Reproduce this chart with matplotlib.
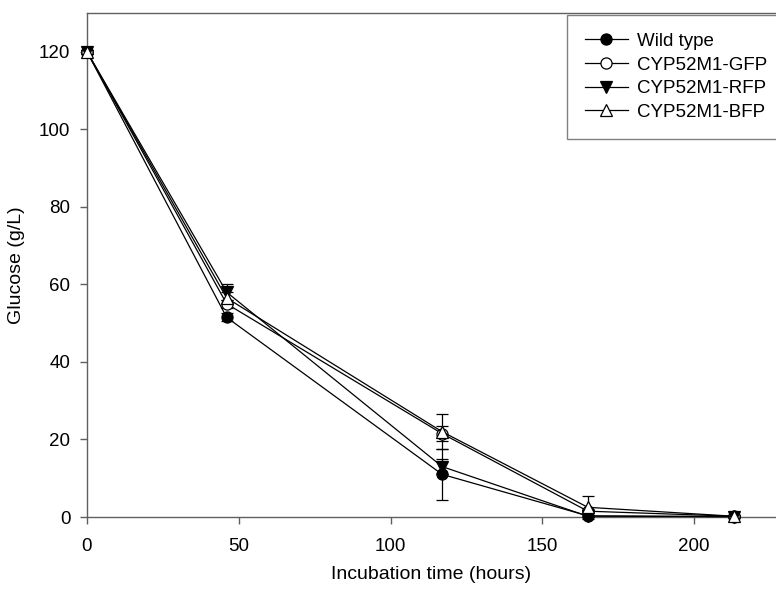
import numpy as np
import matplotlib
matplotlib.use("Agg")
import matplotlib.pyplot as plt
from matplotlib.lines import Line2D

plt.rcParams['font.family'] = ['Liberation Sans', 'DejaVu Sans']

# sampling times (hours)
hours = [0, 46, 117, 165, 213]

# glucose (g/L) and error bars
wild_type = [120.0, 51.5, 11.0, 0.3, 0.1]
wild_type_err = [0.5, 1.0, 6.5, 0.3, 0.2]
gfp = [120.0, 55.0, 21.5, 1.5, 0.2]
gfp_err = [0.5, 1.0, 2.0, 0.5, 0.2]
rfp = [120.0, 58.0, 13.0, 0.2, 0.1]
rfp_err = [0.5, 2.0, 2.0, 0.3, 0.2]
bfp = [120.0, 56.5, 22.0, 2.5, 0.2]
bfp_err = [0.5, 1.5, 4.5, 3.0, 0.2]

series = [
    ("Wild type", wild_type, wild_type_err, "o", "black"),
    ("CYP52M1-GFP", gfp, gfp_err, "o", "white"),
    ("CYP52M1-RFP", rfp, rfp_err, "v", "black"),
    ("CYP52M1-BFP", bfp, bfp_err, "^", "white"),
]

axcol = "#606060"

fig = plt.figure(figsize=(7.76, 5.90), dpi=100)
ax = fig.add_axes([87 / 776, 73 / 590, 1 - 87 / 776, (517 - 13) / 590])

handles = []
for name, vals, err, mk, fc in series:
    h = ax.errorbar(hours, vals, yerr=err, color="black", lw=0.9,
                    marker=mk, markersize=8, markerfacecolor=fc,
                    markeredgecolor="black", markeredgewidth=0.9,
                    capsize=4.5, elinewidth=0.9, capthick=0.9,
                    clip_on=False, zorder=3)
    for c in h.lines[1]:
        c.set_clip_on(False)
    for c in h.lines[2]:
        c.set_clip_on(False)
    # legend shows only line + marker
    handles.append(Line2D([], [], color="black", lw=0.9, marker=mk,
                          markersize=8, markerfacecolor=fc,
                          markeredgecolor="black", markeredgewidth=0.9,
                          label=name))

ax.set_xlim(0, 227)
ax.set_ylim(0, 130)
ax.set_xticks([0, 50, 100, 150, 200])
ax.set_yticks([0, 20, 40, 60, 80, 100, 120])

for s in ["left", "bottom", "top"]:
    ax.spines[s].set_color(axcol)
    ax.spines[s].set_linewidth(1.0)
ax.spines["right"].set_visible(False)

ax.tick_params(direction="out", length=5, width=1, color=axcol,
               labelsize=13.5, top=False, right=False)
ax.tick_params(axis="x", pad=10)
ax.tick_params(axis="y", pad=7)

ax.set_xlabel("Incubation time (hours)", fontsize=14, labelpad=8)
ax.set_ylabel("Glucose (g/L)", fontsize=14, labelpad=10)

leg = ax.legend(handles=handles, loc="upper left",
                bbox_to_anchor=(567 / 776, 1 - 15 / 590),
                bbox_transform=fig.transFigure,
                fontsize=13.5, frameon=True, fancybox=False,
                edgecolor=axcol, borderpad=0.95, labelspacing=0.35,
                handlelength=2.3, handletextpad=0.5, borderaxespad=0)
leg.get_frame().set_linewidth(1.0)

fig.savefig("out.png", dpi=100)
